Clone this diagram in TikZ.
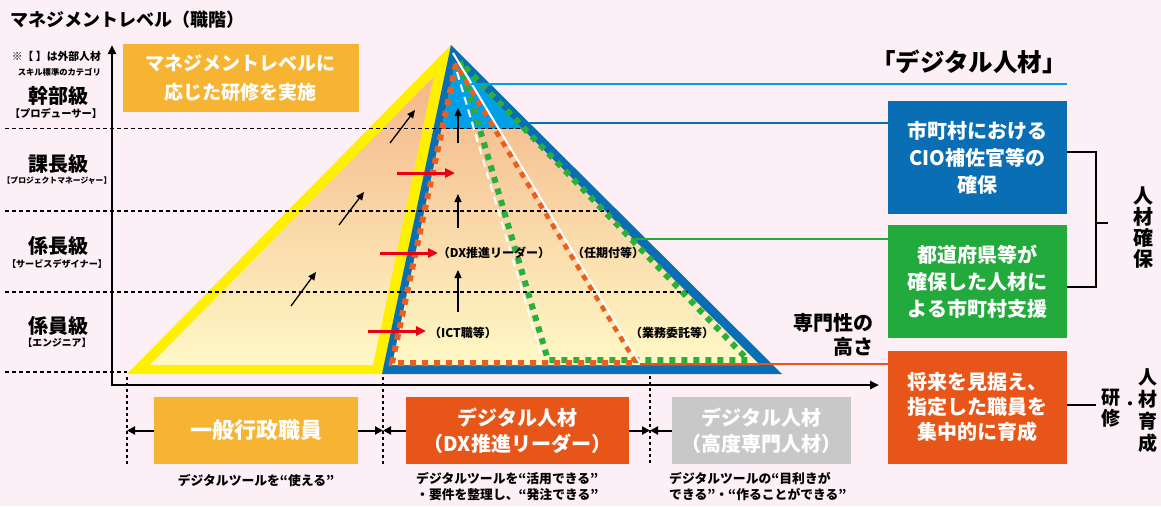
\documentclass[tikz,border=0pt]{standalone}
\usepackage{fontspec}
\setmainfont{Noto Sans CJK JP}
\usetikzlibrary{arrows.meta}
\definecolor{bg}{RGB}{252,240,246}
\definecolor{ylw}{RGB}{255,240,0}
\definecolor{pblue}{RGB}{10,110,180}
\definecolor{cyanb}{RGB}{0,160,233}
\definecolor{ora}{RGB}{232,85,25}
\definecolor{gold}{RGB}{246,180,50}
\definecolor{grn}{RGB}{35,170,60}
\definecolor{gry}{RGB}{200,200,200}
\definecolor{topc}{RGB}{244,175,130}
\definecolor{botc}{RGB}{255,250,200}
\definecolor{dotora}{RGB}{235,95,30}
\definecolor{dotgrn}{RGB}{40,175,60}
\definecolor{redarr}{RGB}{230,0,18}
\tikzset{
  fs/.style={font=\bfseries\fontsize{#1}{#1}\selectfont},
  dashline/.style={black, line width=1.2pt, dash pattern=on 4pt off 3pt},
  dotvline/.style={black, line width=1.3pt, dash pattern=on 3pt off 3pt},
  sqdot/.style={line width=6pt, dash pattern=on 6pt off 6pt, line cap=butt},
  blkarrow/.style={black, line width=1.3pt, -{Triangle[length=8pt,width=7pt]}},
  redarrow/.style={redarr, line width=3pt, -{Triangle[length=10pt,width=9pt]}},
  botarrow/.style={black, line width=2pt, -{Triangle[length=8pt,width=8pt]}},
  tlabel/.style={inner sep=0pt, align=center},
  rbox/.style={inner sep=0pt, minimum width=179pt, minimum height=113pt, align=center, text=white},
  bbox/.style={inner sep=0pt, minimum height=67pt, align=center, text=white},
}
\begin{document}
\begin{tikzpicture}[x=1pt,y=-1pt]
\fill[bg] (0,0) rectangle (1161,506);
\useasboundingbox (0,0) rectangle (1161,506);

% ---- yellow part of pyramid
\fill[ylw] (451,45) -- (127,374) -- (384,374) -- cycle;
\begin{scope}
  \clip (433.5,77) -- (150,365) -- (373,365) -- cycle;
  \shade[top color=topc, bottom color=botc] (100,45) rectangle (800,374);
\end{scope}
% ---- blue part of pyramid
\fill[pblue] (451,45) -- (382,374) -- (782,374) -- cycle;
\begin{scope}
  \clip (455.5,62.4) -- (392,365) -- (760,365) -- cycle;
  \shade[top color=topc, bottom color=botc] (100,45) rectangle (800,374);
  \fill[cyanb] (380,40) rectangle (800,128.5);
\end{scope}

% ---- level dashed lines
\draw[dashline] (5,128.5) -- (530,128.5);
\draw[dashline] (5,211) -- (609,211);
\draw[dashline] (5,292) -- (690,292);
\draw[dashline] (5,372) -- (127,372);

% ---- dotted outlines inside
\draw[sqdot, dotgrn] (460,62) -- (548,360) -- (748,360) -- cycle;
\draw[sqdot, dotora] (456,64) -- (392,363) -- (637,363) -- cycle;
\draw[white, line width=2pt] (453,53) -- (640,363);
\draw[white, line width=2pt, dash pattern=on 8pt off 5pt] (457,72) -- (542,358);

% ---- arrows inside pyramid
\draw[blkarrow] (291,306) -- (316,272);
\draw[blkarrow] (339,225) -- (364,192);
\draw[blkarrow] (390,143) -- (415,110);
\draw[blkarrow] (458,143) -- (458,108);
\draw[blkarrow] (458,228) -- (458,194);
\draw[blkarrow] (458,312) -- (458,270);
\draw[redarrow] (397,173) -- (455,173);
\draw[redarrow] (380,253) -- (438,253);
\draw[redarrow] (368,331) -- (426,331);

\node[tlabel, fs=12] (dxl) at (494,253) {（DX推進リーダー）};
\node[tlabel, fs=12] (ninki) at (608,253) {（任期付等）};
\node[tlabel, fs=12] (ict) at (463,333) {（ICT職等）};
\node[tlabel, fs=12] (gyomu) at (672,333) {（業務委託等）};

% ---- bottom dotted verticals
\draw[dotvline] (127,377) -- (127,464);
\draw[dotvline] (383,377) -- (383,464);
\draw[dotvline] (650,376) -- (650,464);

% ---- axes
\draw[black, line width=2.5pt, {Triangle[length=9pt,width=8pt]}-{Triangle[length=9pt,width=8pt]}, line join=miter]
  (112,45) -- (112,385) -- (879,385);

% ---- left labels
\node[tlabel, fs=18, anchor=west] (title) at (10,20) {マネジメントレベル（職階）};
\node[tlabel, fs=10.8, anchor=east] (note1) at (101,56) {※【 】は外部人材};
\node[tlabel, fs=8.3, anchor=east] (note2) at (101,72) {スキル標準のカテゴリ};
\node[tlabel, fs=20] (l1) at (58,96) {幹部級};
\node[tlabel, fs=10.3] (l1s) at (56,113) {【プロデューサー】};
\node[tlabel, fs=20] (l2) at (58,164) {課長級};
\node[tlabel, fs=7.8] (l2s) at (57,181) {【プロジェクトマネージャー】};
\node[tlabel, fs=20] (l3) at (58,246) {係長級};
\node[tlabel, fs=9.1] (l3s) at (57,264) {【サービスデザイナー】};
\node[tlabel, fs=20] (l4) at (58,326) {係員級};
\node[tlabel, fs=9.8] (l4s) at (57,343) {【エンジニア】};

\node[fill=gold, text=white, inner sep=0pt, minimum width=236pt, minimum height=68pt,
      align=center, font=\bfseries\fontsize{19}{29}\selectfont] (topbox) at (240.5,78)
  {マネジメントレベルに\\応じた研修を実施};

% ---- right side
\node[tlabel, fs=24.5, anchor=east] (dtitle) at (1067,62) {「デジタル人材」};
\node[rbox, fill=pblue, font=\bfseries\fontsize{20}{27}\selectfont] (cio) at (977.5,157.5)
  {市町村における\\CIO補佐官等の\\確保};
\node[rbox, fill=grn, font=\bfseries\fontsize{20}{27}\selectfont] (pref) at (977.5,281.5)
  {都道府県等が\\確保した人材に\\よる市町村支援};
\node[rbox, fill=ora, font=\bfseries\fontsize{20}{25}\selectfont] (fut) at (977.5,407.5)
  {将来を見据え、\\指定した職員を\\集中的に育成};

\node[tlabel, font=\bfseries\fontsize{20}{24}\selectfont, align=right, anchor=east] (senmon) at (874,335)
  {専門性の\\高さ};

% ---- connector lines from pyramid
\coordinate (c0) at (471,84);
\coordinate (c1) at (529,123);
\coordinate (c2) at (631,239);
\coordinate (c3) at (640,364);
\draw[cyanb, line width=1.6pt] (c0) -- (c0 -| dtitle.east);
\draw[pblue, line width=1.6pt] (c1) -- (c1 -| cio.west);
\draw[grn, line width=1.4pt] (c2) -- (c2 -| pref.west);
\draw[ora, line width=1.4pt] (c3) -- (c3 -| fut.west);

% ---- bracket
\coordinate (k1) at (1096,152);
\coordinate (k2) at (1096,287);
\coordinate (km) at (1096,223);
\coordinate (kt) at (1108,223);
\draw[black, line width=2.2pt] (k1 -| cio.east) -- (k1) -- (k2) -- (k2 -| pref.east);
\draw[black, line width=2.2pt] (km) -- (kt);
\node[tlabel, font=\bfseries\fontsize{20}{21}\selectfont] (kakuho) at (1143,228) {人\\材\\確\\保};
\coordinate (k3) at (1096,405);
\draw[black, line width=2.2pt] (k3 -| fut.east) -- (k3);
\node[tlabel, font=\bfseries\fontsize{19}{21}\selectfont] (kenshu) at (1111,408) {研\\修};
\node[tlabel, fs=15] (dot) at (1130,406) {・};
\node[tlabel, font=\bfseries\fontsize{19}{22}\selectfont] (ikusei) at (1148,411) {人\\材\\育\\成};

% ---- bottom boxes
\node[bbox, fill=gold, minimum width=204pt, font=\bfseries\fontsize{22}{22}\selectfont] (gen) at (256,430.5) {一般行政職員};
\node[bbox, fill=ora, minimum width=223pt, font=\bfseries\fontsize{20}{26}\selectfont] (dx) at (517.5,430.5) {デジタル人材\\（DX推進リーダー）};
\node[bbox, fill=gry, minimum width=179pt, font=\bfseries\fontsize{20}{26}\selectfont] (hp) at (761.5,430.5) {デジタル人材\\（高度専門人材）};
\coordinate (a1) at (127,430.5);
\coordinate (a2) at (383,430.5);
\coordinate (a3) at (650,430.5);
\draw[botarrow] (gen.west) -- (a1);
\draw[botarrow] (gen.east) -- (a2);
\draw[botarrow] (dx.west) -- (a2);
\draw[botarrow] (dx.east) -- (a3);
\draw[botarrow] (hp.west) -- (a3);

\node[tlabel, fs=12.8] (cap1) at (256,480) {デジタルツールを“使える”};
\node[tlabel, font=\bfseries\fontsize{12.8}{16}\selectfont, align=left, anchor=north west] (cap2) at (416,472)
  {デジタルツールを“活用できる”\\・要件を整理し、“発注できる”};
\node[tlabel, font=\bfseries\fontsize{12.8}{16}\selectfont, align=left, anchor=north west] (cap3) at (669,472)
  {デジタルツールの“目利きが\\できる”・“作ることができる”};
\end{tikzpicture}
\end{document}
